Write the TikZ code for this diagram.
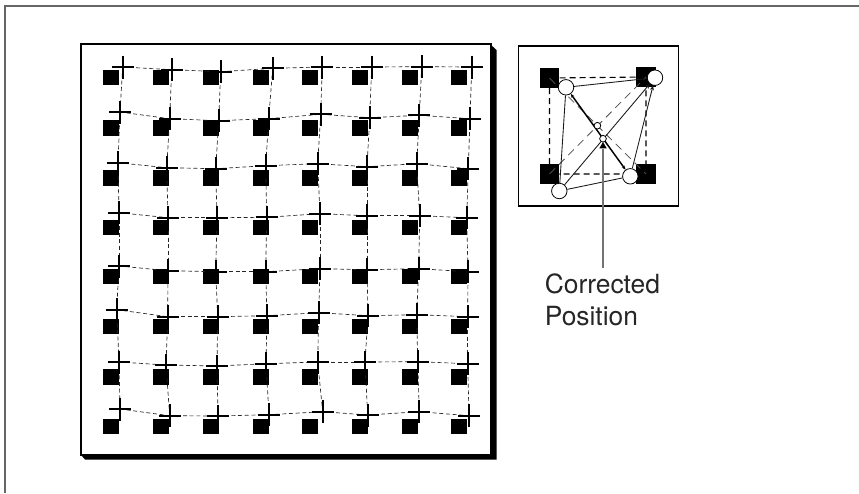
\documentclass[tikz,border=0pt]{standalone}
\usepackage{fontspec}
\setmainfont{TeX Gyre Heros}
\usepackage{tikz}
\usetikzlibrary{calc,arrows.meta,shapes.geometric}

\tikzset{
  sqmark/.style={fill=black,inner sep=0pt,minimum width=12pt,minimum height=11.6pt},
  crossline/.style={line width=1.25pt},
  meshline/.style={line width=0.5pt,dash pattern=on 3pt off 2pt,black!85},
  refline/.style={line width=0.85pt,dash pattern=on 4.5pt off 3pt},
  refdiag/.style={line width=0.6pt,dash pattern=on 6pt off 4pt,black!70},
  vertexdot/.style={circle,draw,line width=0.6pt,fill=white,inner sep=0pt,minimum size=11.6pt},
  centredot/.style={circle,draw,line width=0.6pt,fill=white,inner sep=0pt,minimum size=5pt},
  warpline/.style={line width=0.65pt,black!90},
  warpdiag/.style={line width=1.1pt,{Stealth[length=3pt,width=2.5pt]}-{Stealth[length=3pt,width=2.5pt]}},
}

\begin{document}
\begin{tikzpicture}[x=0.75pt,y=-0.75pt]
  \useasboundingbox (0,0) rectangle (859,493);
  \draw[black!60,line width=1pt] (5,493) -- (5,6) -- (859,6);

  \fill[black] (490,44) -- (496.5,50) -- (496.5,459.5) -- (85,459.5) -- (81,455) -- cycle;
  \draw[line width=1.5pt,fill=white] (81,44) rectangle (490.5,454.5);

  \foreach \y [count=\r] in {77.5,128,178,227.5,276.5,326.5,377,426.5}
    \foreach \x [count=\c] in {111,160.7,210.7,260.7,310,360,410,459}
      \node[sqmark] (s-\r-\c) at (\x,\y) {};

  \foreach \row [count=\r] in {
    {122.7/67,171.7/69.7,220.7/71.7,272.7/68.3,322.3/67,371.7/67,421.7/66.7,471.7/67},
    {120/112,169.7/118.7,218.7/120.7,268.7/118.7,320.7/114.3,369.7/117.7,419.3/115.3,470/118.7},
    {118/162.7,166.7/167.7,215.7/168.7,265.7/165.7,317.7/163.7,367/166.7,416.7/163.7,468.3/168.7},
    {119/212.7,168/217.7,217/217.7,266.7/217.3,320/213.7,367/215.7,419.7/215.7,466.7/217.7},
    {119/266,168/270.7,215.7/271.7,265.7/271.7,320/268.7,367/269.7,418.7/268.7,468/271.7},
    {116.7/309.7,167.7/316.7,217.7/316.7,267/315.7,318.7/312.7,368/315.7,416.7/314.7,467.7/316.7},
    {119/362,166/365,217/366,266/363.7,317.7/362,365/362,417.7/361.7,467.7/363.7},
    {120/409,169.7/415.7,218/416,269/414.7,322.7/411.7,367.7/415,419.3/411.7,469/415.7}}
    \foreach \x/\y [count=\c] in \row
      \coordinate (p-\r-\c) at (\x,\y);

  \foreach \i in {1,...,8}
    \foreach \j/\k in {1/2,2/3,3/4,4/5,5/6,6/7,7/8} {
      \draw[meshline] (p-\i-\j) -- (p-\i-\k);
      \draw[meshline] (p-\j-\i) -- (p-\k-\i);
    }

  \foreach \r in {1,...,8}
    \foreach \c in {1,...,8} {
      \draw[crossline] ($(p-\r-\c)+(-11,0)$) -- ($(p-\r-\c)+(11,0)$);
      \draw[crossline] ($(p-\r-\c)+(0,-11.5)$) -- ($(p-\r-\c)+(0,11.5)$);
    }

  \draw[line width=0.85pt] (518.3,46) rectangle (678.3,206);

  \node[sqmark,minimum width=14.8pt,minimum height=14.8pt] (sq-tl) at (549.5,78) {};
  \node[sqmark,minimum width=14.8pt,minimum height=14.8pt] (sq-tr) at (646,77) {};
  \node[sqmark,minimum width=14.8pt,minimum height=14.8pt] (sq-bl) at (549.5,174) {};
  \node[sqmark,minimum width=14.8pt,minimum height=14.8pt] (sq-br) at (646,174) {};
  \draw[refline] (sq-tl.center) -- (sq-tr.center) -- (sq-br.center) -- (sq-bl.center) -- cycle;
  \draw[refdiag] (sq-bl.center) -- (sq-tr.center);
  \draw[refdiag] (sq-tl.center) -- (sq-br.center);

  \node[vertexdot] (v-tl) at (566,87.3) {};
  \node[vertexdot] (v-tr) at (655,77.7) {};
  \node[vertexdot] (v-bl) at (559.3,191) {};
  \node[vertexdot] (v-br) at (630.3,176.3) {};
  \draw[warpline] (v-tl) -- (v-tr);
  \draw[warpline] (v-bl) -- (v-br);
  \draw[warpline] (v-tl) -- (v-bl);
  \draw[warpline,-{Stealth[length=3.5pt,width=3pt]}] (v-br) -- (v-tr);
  \draw[warpline,-{Stealth[length=3.5pt,width=3pt]}] (v-bl) -- (v-tr);
  \draw[warpdiag] (v-tl) -- (v-br);

  \node[centredot] (m-ref) at (597.4,125.7) {};
  \node[centredot] (m-warp) at (603,138.7) {};
  \node[regular polygon,regular polygon sides=3,fill=black,inner sep=0pt,minimum size=6.5pt] (tip) at (603,146.3) {};

  \node[font=\fontsize{19.8pt}{24pt}\selectfont,text=black!85,align=left,anchor=north west,inner sep=0pt] (lab) at (544.5,273.5) {Corrected\\Position};
  \coordinate (lead) at (603,268);
  \draw[black!55,line width=1.1pt] (lead) -- (tip.south);
\end{tikzpicture}
\end{document}
